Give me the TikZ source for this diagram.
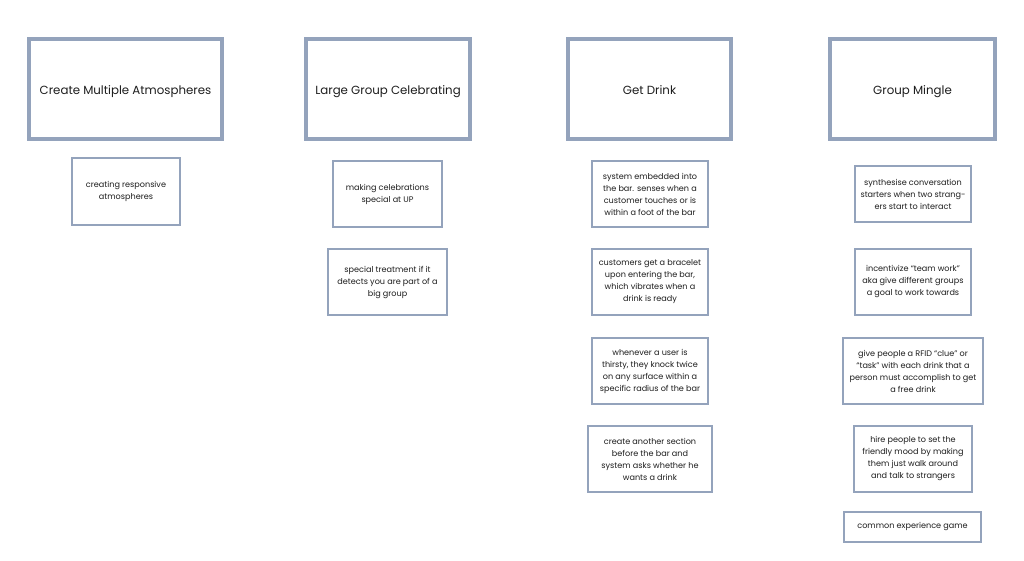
\documentclass[tikz,border=0pt]{standalone}
\usepackage{fontspec}
\setmainfont{Poppins}
\begin{document}
\begin{tikzpicture}[x=1pt,y=-1pt,
  frame/.style={draw=boxc,line width=3.5pt,fill=white,inner sep=0pt,align=center,text=txt,text height=13.5pt,text depth=3pt,font=\fontsize{11.8}{15}\selectfont},
  card/.style={draw=boxc,line width=2pt,fill=white,inner sep=0pt,align=center,text=txt,font=\fontsize{8.1}{12}\selectfont}]
\definecolor{boxc}{HTML}{94A3BC}
\definecolor{txt}{HTML}{1E1E1E}
\useasboundingbox (0,0) rectangle (1024,560);
\fill[white] (0,0) rectangle (1024,560);
% top frames
\node[frame,minimum width=193pt,minimum height=100pt] (t1) at (125.5,89) {Create Multiple Atmospheres};
\node[frame,minimum width=164pt,minimum height=100pt] (t2) at (388,89) {Large Group Celebrating};
\node[frame,minimum width=163pt,minimum height=100pt] (t3) at (649.5,89) {Get Drink};
\node[frame,minimum width=165pt,minimum height=100pt] (t4) at (912.5,89) {Group Mingle};
% column 1
\node[card,minimum width=108pt,minimum height=67pt] (a1) at (126,191.5) {creating responsive\\atmospheres};
% column 2
\node[card,minimum width=109pt,minimum height=66pt] (b1) at (387.5,194) {making celebrations\\special at UP};
\node[card,minimum width=119pt,minimum height=66pt] (b2) at (387.5,282) {special treatment if it\\detects you are part of a\\big group};
% column 3
\node[card,minimum width=116pt,minimum height=66pt] (c1) at (650,194) {system embedded into\\the bar. senses when a\\customer touches or is\\within a foot of the bar};
\node[card,minimum width=116pt,minimum height=66pt] (c2) at (650,282) {customers get a bracelet\\upon entering the bar,\\which vibrates when a\\drink is ready};
\node[card,minimum width=116pt,minimum height=66pt] (c3) at (650,371) {whenever a user is\\thirsty, they knock twice\\on any surface within a\\specific radius of the bar};
\node[card,minimum width=124pt,minimum height=66pt] (c4) at (650,459) {create another section\\before the bar and\\system asks whether he\\wants a drink};
% column 4
\node[card,minimum width=116pt,minimum height=56pt] (d1) at (913,194) {synthesise conversation\\starters when two strang-\\ers start to interact};
\node[card,minimum width=116pt,minimum height=66pt] (d2) at (913,282) {incentivize “team work”\\aka give different groups\\a goal to work towards};
\node[card,minimum width=140pt,minimum height=66pt] (d3) at (913,371) {give people a RFID “clue” or\\“task” with each drink that a\\person must accomplish to get\\a free drink};
\node[card,minimum width=118pt,minimum height=66pt] (d4) at (913,459) {hire people to set the\\friendly mood by making\\them just walk around\\and talk to strangers};
\node[card,minimum width=137pt,minimum height=30pt] (d5) at (912.5,527) {common experience game};
\end{tikzpicture}
\end{document}
